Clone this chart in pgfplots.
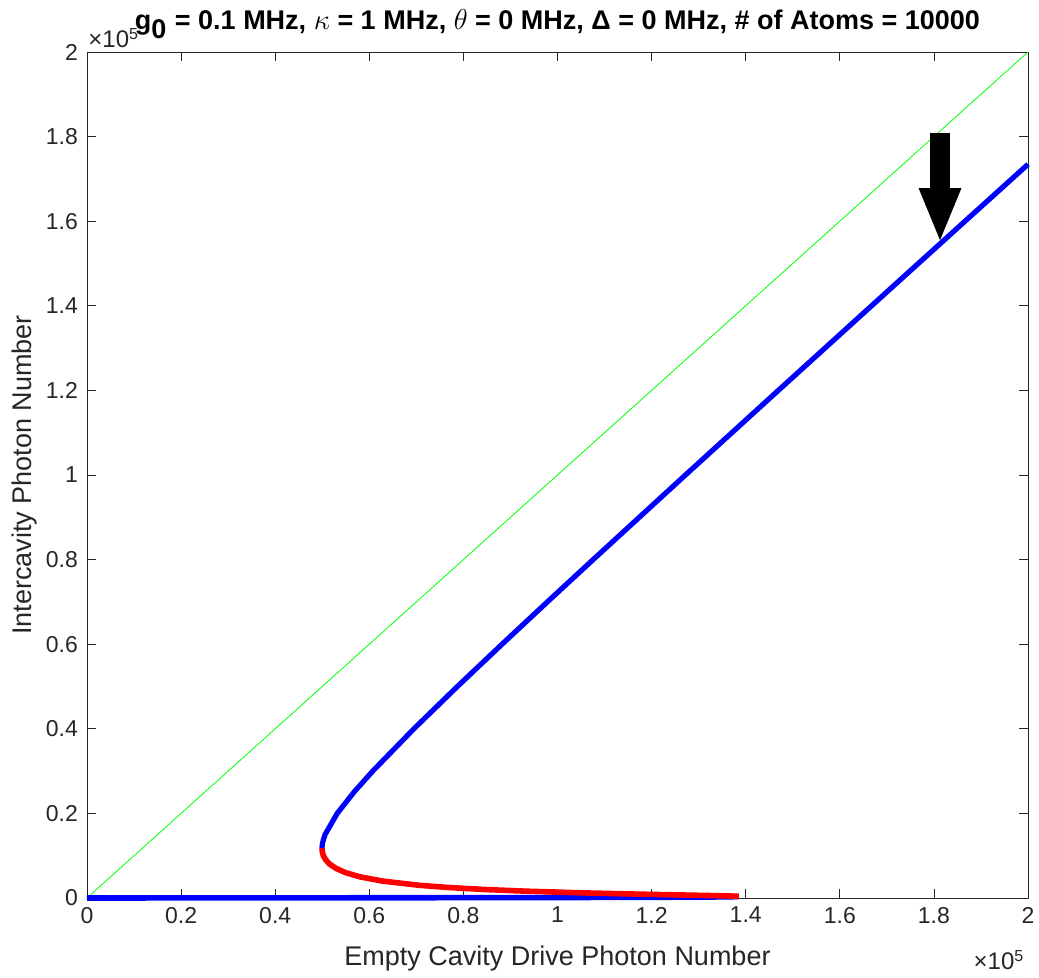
\documentclass[border=0pt]{standalone}
\usepackage{fontspec}
\setmainfont{Liberation Sans}
\usepackage{pgfplots}
\pgfplotsset{compat=1.18}
\usetikzlibrary{arrows.meta}
\definecolor{axgray}{RGB}{38,38,38}
\definecolor{mgreen}{RGB}{0,255,0}

\begin{document}
\begin{tikzpicture}
\begin{axis}[
  scale only axis, width=470.5pt, height=423pt,
  xmin=0, xmax=200000, ymin=0, ymax=200000,
  clip=false,
  xtick={0,20000,40000,60000,80000,100000,120000,140000,160000,180000,200000},
  ytick={0,20000,40000,60000,80000,100000,120000,140000,160000,180000,200000},
  xticklabels={0,0.2,0.4,0.6,0.8,1,1.2,1.4,1.6,1.8,2},
  yticklabels={0,0.2,0.4,0.6,0.8,1,1.2,1.4,1.6,1.8,2},
  scaled ticks=false,
  tick align=inside, tick pos=both, major tick length=4.5pt,
  axis line style={axgray, line width=0.4pt},
  every tick/.style={axgray, line width=0.4pt},
  tick label style={font=\fontsize{11.5}{13}\selectfont, text=axgray},
  xticklabel style={yshift=-1pt},
  yticklabel style={xshift=-1pt},
  /pgf/number format/assume math mode=true,
  xlabel={Empty Cavity Drive Photon Number},
  ylabel={Intercavity Photon Number},
  label style={font=\fontsize{13.5}{15}\selectfont, text=axgray},
  xlabel style={at={(axis description cs:0.5,-0.071)}, anchor=center},
  ylabel style={at={(axis description cs:-0.066,0.5)}, anchor=center},
  title={g$_{\textbf{0}}$ = 0.1 MHz, $\kappa$ = 1 MHz, $\theta$ = 0 MHz, Δ = 0 MHz, \# of Atoms = 10000},
  title style={font=\fontsize{13.5}{15}\selectfont\bfseries, at={(axis description cs:0.5,1)}, anchor=center, yshift=8pt},
  line join=round,
]
% y = x reference
\addplot[mgreen, line width=0.4pt] coordinates {(0,0) (200000,200000)};
% lower stable branch
\addplot[blue, line width=2.8pt] coordinates {
(0,0) (60730,50) (95510,100) (115770,150) (127500,200) (134030,250) (137300,300) (138540,370)
};
% unstable branch
\addplot[red, line width=2.8pt] coordinates {
(138540,370) (137260,450) (133710,550) (126900,700) (117690,900) (105750,1200)
(93590,1600) (84660,2000) (76530,2500) (70630,3000) (62800,4000) (58010,5000)
(54940,6000) (52930,7000) (51600,8000) (50750,9000) (50240,10000) (50000,11000) (49940,11800)
};
% upper stable branch
\addplot[blue, line width=2.6pt] coordinates {
(49940,11800) (50045,13000) (50593,15000) (53189,20000) (56720,25000) (60731,30000)
(69481,40000) (78725,50000) (88217,60000) (97853,70000) (107579,80000) (127195,100000)
(146940,120000) (166755,140000) (186618,160000) (200000,173450)
};
% arrow annotation
\addplot[black, line width=10pt, -{Triangle[width=19pt,length=27.5pt]}] coordinates {(181300,180900) (181300,154800)};
\end{axis}
\node[anchor=center, text=axgray, font=\fontsize{12}{13}\selectfont] at (456pt,-31pt) {×10\textsuperscript{5}};
\node[anchor=west, text=axgray, font=\fontsize{12}{13}\selectfont, inner sep=0pt] at (0.5pt,430pt) {×10\textsuperscript{5}};
\pgfresetboundingbox
\path (-43.5pt,-40pt) rectangle (476pt,449pt);
\end{tikzpicture}
\end{document}
